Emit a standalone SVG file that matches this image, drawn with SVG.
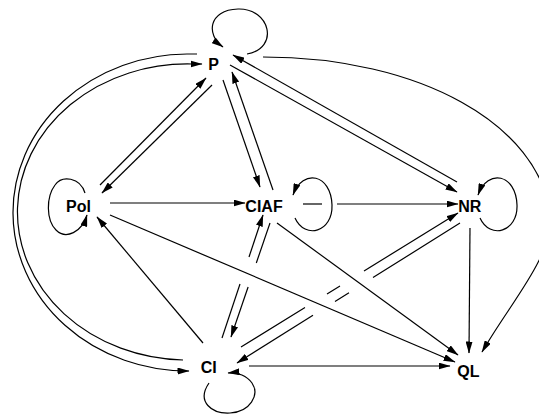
<svg xmlns="http://www.w3.org/2000/svg" width="539" height="414" viewBox="0 0 539 414">
<style>
.e{fill:none;stroke:#000;stroke-width:1.2}
.t{font-family:"Liberation Sans",Arial,Helvetica,sans-serif;font-weight:bold;font-size:16px;fill:#000;text-anchor:middle}
</style>
<defs>
<marker id="a" markerWidth="13" markerHeight="7" refX="11.5" refY="3.5" orient="auto" markerUnits="userSpaceOnUse">
<path d="M0,0 L12,3.5 L0,7 z" fill="#000"/>
</marker>
</defs>
<rect width="539" height="414" fill="#fff"/>
<g id="connectors">
<!-- self loops -->
<path class="e" marker-end="url(#a)" d="M247,54 C280,48 270,8 238,9 C208,10 206,35 223,47"/>
<path class="e" marker-end="url(#a)" d="M85,193 C80,177 62,175 55,185 C46,197 46,220 56,230 C66,240 82,232 87,215"/>
<path class="e" marker-end="url(#a)" d="M295,218 C305,240 333,232 332,205 C331,174 303,168 293,195"/>
<path class="e" marker-end="url(#a)" d="M480,218 C490,240 518,232 517,205 C516,174 488,168 478,195"/>
<path class="e" marker-end="url(#a)" d="M209,383 C196,402 212,414 230,413 C250,412 260,395 252,383 C247,376 238,372 228,373"/>
<!-- P -> QL curve -->
<path class="e" marker-end="url(#a)" d="M263,57 C420,57 540,125 550,215 C553,257 512,300 482,352"/>
<!-- P <-> NR -->
<path class="e" marker-end="url(#a)" d="M457,182 L233,55"/>
<path class="e" marker-end="url(#a)" d="M230,65 L457,192"/>
<!-- P <-> Pol -->
<path class="e" marker-end="url(#a)" d="M100,185 L206,78"/>
<path class="e" marker-end="url(#a)" d="M212,85 L102,193"/>
<!-- P <-> CIAF -->
<path class="e" marker-end="url(#a)" d="M223,80 L260,187"/>
<path class="e" marker-end="url(#a)" d="M273,190 L232,72"/>
<!-- P <-> CI arcs -->
<path class="e" marker-end="url(#a)" d="M197,54 L187,54 A175,158.5 0 0 0 189,371"/>
<path class="e" marker-end="url(#a)" d="M183,360 A170,148 0 0 1 192,64 L202,64"/>
<!-- Pol -> CIAF -->
<path class="e" marker-end="url(#a)" d="M110,203 L245,203"/>
<!-- CIAF -> NR (broken at loop) -->
<path class="e" d="M303,204 L322,204"/>
<path class="e" marker-end="url(#a)" d="M337,204 L458,204"/>
<!-- NR -> QL -->
<path class="e" marker-end="url(#a)" d="M470,228 L469,353"/>
<!-- CI -> NR -->
<path class="e" d="M241,347 L305,307.5 M327,293.9 L340,285.9"/>
<path class="e" marker-end="url(#a)" d="M364,271 L458,213"/>
<!-- NR -> CI -->
<path class="e" d="M460,223 L373,277.6 M349,292.7 L335,301.5"/>
<path class="e" marker-end="url(#a)" d="M313,315.3 L237,363"/>
<!-- CI -> CIAF -->
<path class="e" d="M222,338 L240,284"/>
<path class="e" marker-end="url(#a)" d="M249,257 L263,215"/>
<!-- CIAF -> CI -->
<path class="e" d="M270,223 L256.3,263"/>
<path class="e" marker-end="url(#a)" d="M248.1,287 L231,337"/>
<!-- Pol -> QL -->
<path class="e" marker-end="url(#a)" d="M110,215 L455,362"/>
<!-- CIAF -> QL -->
<path class="e" marker-end="url(#a)" d="M277,223 L458,355"/>
<!-- CI -> Pol -->
<path class="e" marker-end="url(#a)" d="M203,343 L97,217"/>
<!-- CI -> QL -->
<path class="e" marker-end="url(#a)" d="M249,366 L450,366"/>
</g>
<g id="P"><text class="t" x="213.5" y="69.5">P</text></g>
<g id="Pol"><text class="t" x="78.5" y="211.5">Pol</text></g>
<g id="CIAF"><text class="t" x="264" y="211.5">CIAF</text></g>
<g id="NR"><text class="t" x="469.7" y="211.5">NR</text></g>
<g id="CI"><text class="t" x="208.7" y="373.3">CI</text></g>
<g id="QL"><text class="t" x="468.3" y="376.5">QL</text></g>
</svg>
